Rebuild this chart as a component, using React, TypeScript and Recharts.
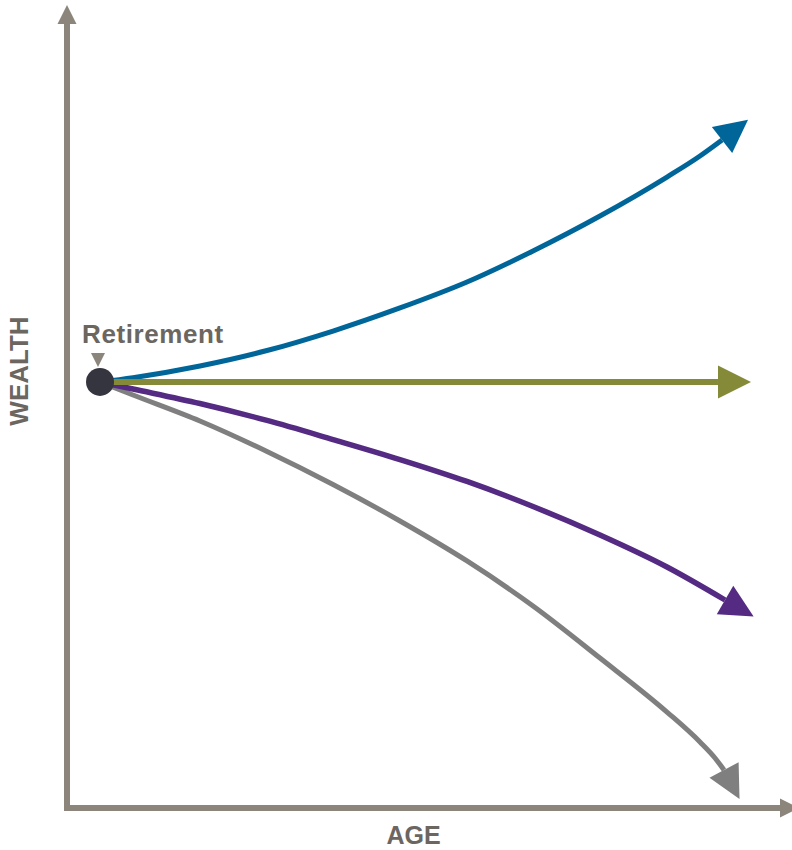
import React from 'react';
import { LineChart, Line, XAxis, YAxis, ReferenceDot, Label } from 'recharts';

// Conceptual chart: age (x) vs wealth (y), both on an abstract 0–100 scale.
const retirement = { age: 4.63, wealth: 54.34 };

const growthAges = [4.63, 9.26, 18.65, 28.05, 37.31, 46.7, 56.1, 65.36, 74.75, 84.15, 88.78, 91.87];
const growthWealth = [54.34, 54.89, 56.38, 58.35, 60.84, 63.78, 67.09, 71.05, 75.51, 80.48, 83.16, 85.2];

const flatAges = [4.63, 91.3];
const flatWealth = [54.34, 54.34];

const declineAges = [4.63, 9.26, 18.65, 28.05, 37.31, 46.7, 56.1, 65.36, 74.75, 84.15, 92.29];
const declineWealth = [54.34, 53.44, 51.59, 49.43, 47.0, 44.45, 41.65, 38.46, 34.82, 30.74, 26.53];

const depletionAges = [4.63, 9.26, 18.65, 28.05, 37.31, 46.7, 56.1, 65.36, 74.75, 84.15, 88.78, 90.88, 92.15];
const depletionWealth = [54.34, 52.68, 49.36, 45.47, 41.26, 36.61, 31.51, 25.77, 19.13, 12.24, 8.42, 6.38, 4.85];

const labels = { x: 'AGE', y: 'WEALTH', point: 'Retirement' };

const toRows = (ages: number[], wealth: number[]) => ages.map((a, i) => ({ age: a, wealth: wealth[i] }));

const growth = toRows(growthAges, growthWealth);
const flat = toRows(flatAges, flatWealth);
const decline = toRows(declineAges, declineWealth);
const depletion = toRows(depletionAges, depletionWealth);

const FONT = '"Liberation Sans", Arial, Helvetica, sans-serif';
const AXIS = '#8c857b';
const TEXT = '#6b665f';
const BLUE = '#006699';
const GREEN = '#848a38';
const PURPLE = '#542a82';
const GREY = '#7f7f7f';

const ArrowMarker = ({ id, color, angle }: { id: string; color: string; angle: string }) => (
  <marker
    id={id}
    markerUnits="userSpaceOnUse"
    markerWidth={33}
    markerHeight={33}
    viewBox="0 0 33 33"
    refX={0}
    refY={16.5}
    orient={angle}
    overflow="visible"
  >
    <path d="M0,0 L33,16.5 L0,33 Z" fill={color} />
  </marker>
);

const RetirementShape = (props: any) => {
  const { cx, cy } = props;
  if (cx == null || cy == null) return null;
  return (
    <g>
      <circle cx={cx} cy={cy} r={14} fill="#34353f" />
      <path d={`M${cx - 9},${cy - 29} L${cx + 5},${cy - 29} L${cx - 2},${cy - 15} Z`} fill={AXIS} />
      <text
        x={cx - 18}
        y={cy - 39}
        fontFamily={FONT}
        fontSize={26}
        fontWeight="bold"
        letterSpacing={0.6}
        fill={TEXT}
      >
        {labels.point}
      </text>
    </g>
  );
};

const AgeLabel = (props: any) => {
  const vb = props.viewBox || {};
  return (
    <text
      x={vb.x + vb.width / 2 - 10}
      y={844}
      textAnchor="middle"
      fontFamily={FONT}
      fontSize={25}
      fontWeight="bold"
      fill={TEXT}
    >
      {labels.x}
    </text>
  );
};

const WealthLabel = () => {
  const x = 19;
  const y = 371;
  return (
    <text
      x={x}
      y={y}
      transform={`rotate(-90 ${x} ${y})`}
      textAnchor="middle"
      dominantBaseline="central"
      fontFamily={FONT}
      fontSize={26}
      fontWeight="bold"
      fill={TEXT}
    >
      {labels.y}
    </text>
  );
};

export default function App() {
  return (
    <div style={{ position: 'absolute', left: 0, top: 0, width: 792, height: 850, background: '#fff' }}>
      <svg width={0} height={0} style={{ position: 'absolute' }}>
        <defs>
          <marker
            id="axisArrow"
            markerUnits="userSpaceOnUse"
            markerWidth={19}
            markerHeight={19}
            viewBox="0 0 19 19"
            refX={0}
            refY={9.5}
            orient="auto-start-reverse"
            overflow="visible"
          >
            <path d="M0,0 L19,9.5 L0,19 Z" fill={AXIS} />
          </marker>
          <ArrowMarker id="arrowBlue" color={BLUE} angle="-38" />
          <ArrowMarker id="arrowGreen" color={GREEN} angle="0" />
          <ArrowMarker id="arrowPurple" color={PURPLE} angle="30" />
          <ArrowMarker id="arrowGrey" color={GREY} angle="62" />
        </defs>
      </svg>
      <LineChart width={792} height={850} margin={{ top: 24, right: 12, bottom: 0, left: 0 }}>
        <XAxis
          type="number"
          dataKey="age"
          domain={[0, 100]}
          height={42}
          tick={false}
          tickLine={false}
          axisLine={{ stroke: AXIS, strokeWidth: 6, strokeLinecap: 'square', markerEnd: 'url(#axisArrow)' } as any}
        >
          <Label content={AgeLabel} />
        </XAxis>
        <YAxis
          type="number"
          dataKey="wealth"
          domain={[0, 100]}
          width={67}
          tick={false}
          tickLine={false}
          axisLine={{ stroke: AXIS, strokeWidth: 6, strokeLinecap: 'square', markerStart: 'url(#axisArrow)' } as any}
        >
          <Label content={WealthLabel} />
        </YAxis>
        <Line
          data={depletion}
          dataKey="wealth"
          type="monotone"
          stroke={GREY}
          strokeWidth={5}
          dot={false}
          activeDot={false}
          isAnimationActive={false}
          markerEnd="url(#arrowGrey)"
        />
        <Line
          data={decline}
          dataKey="wealth"
          type="monotone"
          stroke={PURPLE}
          strokeWidth={5.5}
          dot={false}
          activeDot={false}
          isAnimationActive={false}
          markerEnd="url(#arrowPurple)"
        />
        <Line
          data={growth}
          dataKey="wealth"
          type="monotone"
          stroke={BLUE}
          strokeWidth={5}
          dot={false}
          activeDot={false}
          isAnimationActive={false}
          markerEnd="url(#arrowBlue)"
        />
        <Line
          data={flat}
          dataKey="wealth"
          type="linear"
          stroke={GREEN}
          strokeWidth={6}
          dot={false}
          activeDot={false}
          isAnimationActive={false}
          markerEnd="url(#arrowGreen)"
        />
        <ReferenceDot x={retirement.age} y={retirement.wealth} r={14} shape={RetirementShape} />
      </LineChart>
    </div>
  );
}
